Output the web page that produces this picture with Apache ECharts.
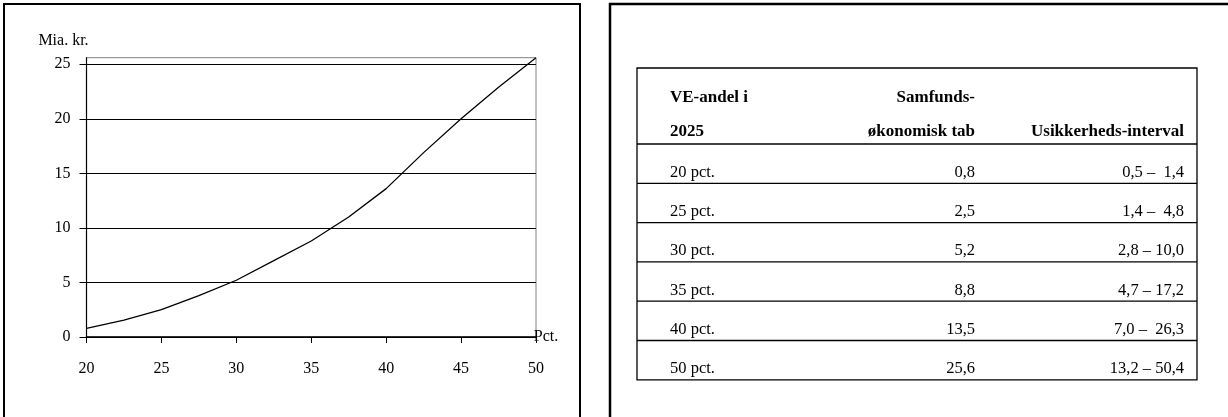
<!DOCTYPE html>
<html><head><meta charset="utf-8">
<script src="https://cdn.jsdelivr.net/npm/echarts@6/dist/echarts.min.js"></script>
<style>html,body{margin:0;padding:0;background:#fff}#c{width:1228px;height:417px}</style>
</head><body><div id="c"></div>
<script>
// ---- data ----
const pct = [20, 22.5, 25, 27.5, 30, 32.5, 35, 37.5, 40, 42.5, 45, 47.5, 50];
const tab = [0.8, 1.55, 2.5, 3.8, 5.2, 7.0, 8.8, 11.0, 13.6, 16.9, 20.0, 22.9, 25.6];
const yTicks = [0, 5, 10, 15, 20, 25];
const xTicks = [20, 25, 30, 35, 40, 45, 50];
const yName = 'Mia. kr.';
const xName = 'Pct.';
const headRow1 = ['VE-andel i', 'Samfunds-', ''];
const headRow2 = ['2025', 'økonomisk tab', 'Usikkerheds-interval'];
const rowShare = ['20 pct.', '25 pct.', '30 pct.', '35 pct.', '40 pct.', '50 pct.'];
const rowLoss = ['0,8', '2,5', '5,2', '8,8', '13,5', '25,6'];
const rowInterval = ['0,5 –  1,4', '1,4 –  4,8', '2,8 – 10,0', '4,7 – 17,2', '7,0 –  26,3', '13,2 – 50,4'];

// ---- layout ----
const FONT = '"Liberation Serif", "Times New Roman", serif';
const T = { left: 637, right: 1197, top: 68, head: 144, rowH: 39.3 };
const colX = [670, 975, 1184];
const colAlign = ['left', 'right', 'right'];

const g = [];
g.push({ type: 'rect', shape: { x: 4, y: 4, width: 576, height: 500 }, style: { fill: 'none', stroke: '#000', lineWidth: 2 }, silent: true });
g.push({ type: 'rect', shape: { x: 610, y: 4, width: 700, height: 500 }, style: { fill: 'none', stroke: '#000', lineWidth: 2.5 }, silent: true });
const tBottom = T.head + T.rowH * rowShare.length;
g.push({ type: 'rect', shape: { x: T.left, y: T.top, width: T.right - T.left, height: tBottom - T.top }, style: { fill: 'none', stroke: '#000', lineWidth: 1.3 }, silent: true });
const lineYs = [T.head];
for (let i = 1; i < rowShare.length; i++) lineYs.push(T.head + T.rowH * i);
lineYs.forEach(y => g.push({ type: 'line', shape: { x1: T.left, y1: y, x2: T.right, y2: y }, style: { stroke: '#000', lineWidth: 1.3 }, silent: true }));
function txt(s, x, y, align, bold) {
  g.push({ type: 'text', x: x, y: y, silent: true,
    style: { text: s, x: 0, y: 0, align: align, verticalAlign: 'middle', fill: '#000',
      font: (bold ? 'bold 17px ' : '16.5px ') + FONT } });
}
[headRow1, headRow2].forEach((row, r) => row.forEach((s, c) => { if (s) txt(s, colX[c], r === 0 ? 98 : 132, colAlign[c], true); }));
rowShare.forEach((s, i) => {
  const y = T.head + T.rowH * (i + 1) - 11;
  txt(s, colX[0], y, 'left', false);
  txt(rowLoss[i], colX[1], y, 'right', false);
  txt(rowInterval[i], colX[2], y, 'right', false);
});

const chart = echarts.init(document.getElementById('c'), null, { renderer: 'canvas' });
chart.setOption({
  animation: false,
  backgroundColor: '#fff',
  textStyle: { fontFamily: FONT },
  grid: { left: 86.5, right: 1228 - 536, top: 57.7, bottom: 417 - 337, show: true, borderColor: '#808080', borderWidth: 1 },
  xAxis: {
    type: 'value', min: 20, max: 50, interval: 5,
    name: xName, nameLocation: 'end', nameGap: 10,
    nameTextStyle: { fontFamily: FONT, fontSize: 16, color: '#000', align: 'center', verticalAlign: 'middle', padding: [28, 0, 0, 0] },
    axisLine: { show: true, lineStyle: { color: '#000', width: 1.5 } },
    axisTick: { show: true, inside: false, length: 6, lineStyle: { color: '#000' } },
    axisLabel: { customValues: xTicks, margin: 24, fontFamily: FONT, fontSize: 16, color: '#000' },
    splitLine: { show: false }
  },
  yAxis: {
    type: 'value', min: 0, max: 25.6, interval: 5,
    name: yName, nameLocation: 'end', nameGap: 17,
    nameTextStyle: { fontFamily: FONT, fontSize: 16, color: '#000', align: 'center', verticalAlign: 'middle', padding: [0, 46, 0, 0] },
    axisLine: { show: true, lineStyle: { color: '#000', width: 1.2 } },
    axisTick: { show: true, inside: false, length: 7, customValues: yTicks, lineStyle: { color: '#000' } },
    axisLabel: { customValues: yTicks, margin: 16, fontFamily: FONT, fontSize: 16, color: '#000' },
    splitLine: { show: true, lineStyle: { color: '#000', width: 1 } }
  },
  series: [{
    type: 'line', data: pct.map((p, i) => [p, tab[i]]), showSymbol: false, symbol: 'none',
    lineStyle: { color: '#000', width: 1.3 }, smooth: false
  }],
  graphic: g
});
</script></body></html>
